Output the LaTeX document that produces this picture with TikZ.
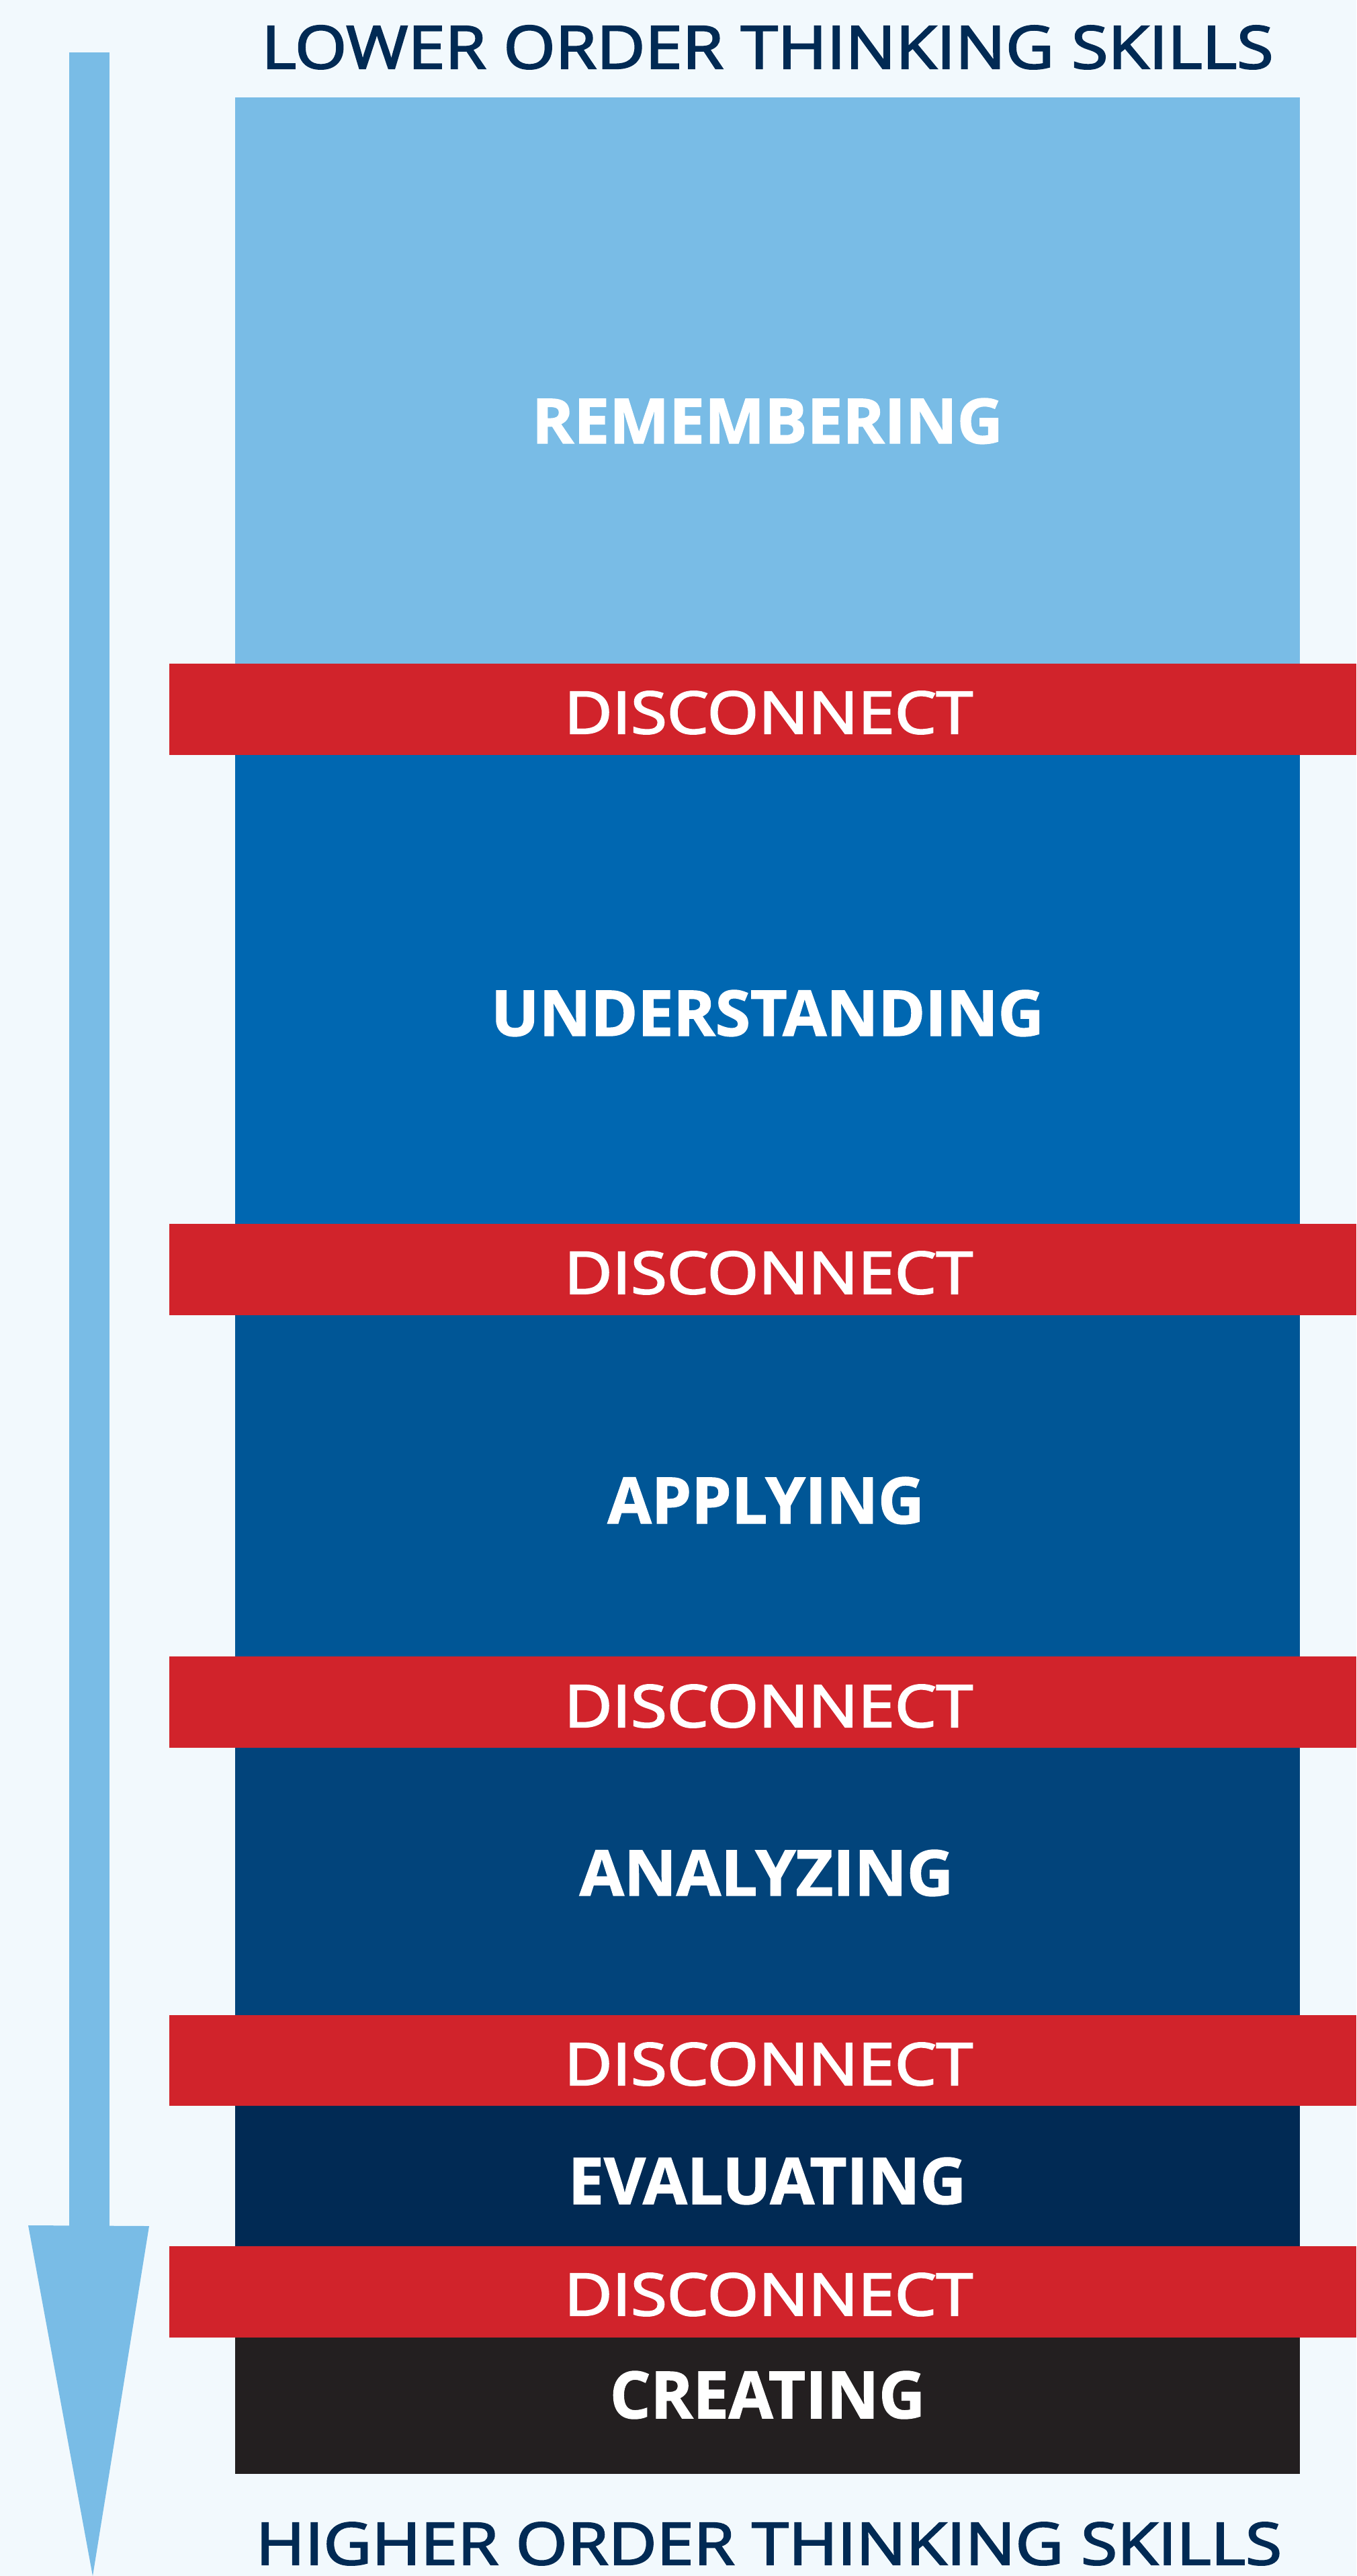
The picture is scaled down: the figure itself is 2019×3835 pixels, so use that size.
\documentclass[tikz,border=0pt]{standalone}
\usepackage{fontspec}
\setmainfont{Open Sans}
\newfontfamily\lblfont[FakeBold=1.5]{Open Sans Bold}
\newfontfamily\discfont[FakeBold=2.5]{Open Sans}
\newfontfamily\headfont[FakeBold=2.5]{Open Sans}
\definecolor{bg}{HTML}{F2F9FD}
\definecolor{lightblue}{HTML}{79BCE6}
\definecolor{lvltwo}{HTML}{0067B1}
\definecolor{lvlthree}{HTML}{005696}
\definecolor{lvlfour}{HTML}{02447B}
\definecolor{lvlfive}{HTML}{012A54}
\definecolor{lvlsix}{HTML}{231F20}
\definecolor{redband}{HTML}{D1232B}
\definecolor{navy}{HTML}{012A54}
\tikzset{
  txt/.style={anchor=base, inner sep=0pt, outer sep=0pt},
  lbl/.style={txt, text=white},
  disc/.style={txt, text=white},
  head/.style={txt, text=navy},
}
\newcommand{\fitlbl}[3]{\resizebox{#1pt}{#2pt}{\lblfont #3}}
\newcommand{\fitdisc}[1]{\resizebox{608pt}{63pt}{\discfont #1}}
\newcommand{\fithead}[3]{\resizebox{#1pt}{#2pt}{\headfont #3}}
\begin{document}
\begin{tikzpicture}[x=1pt,y=-1pt]
  \fill[bg] (0,0) rectangle (2019,3835);
  \useasboundingbox (0,0) rectangle (2019,3835);
  % arrow
  \fill[lightblue] (103,78) rectangle (163,3314);
  \fill[lightblue] (42,3313) -- (222,3314) -- (138,3835) -- cycle;
  % level boxes
  \fill[lightblue] (350,145) rectangle (1935,990);
  \fill[lvltwo] (350,1122) rectangle (1935,1824);
  \fill[lvlthree] (350,1956) rectangle (1935,2468);
  \fill[lvlfour] (350,2600) rectangle (1935,3002);
  \fill[lvlfive] (350,3133) rectangle (1935,3346);
  \fill[lvlsix] (350,3478) rectangle (1935,3683);
  % red bands
  \fill[redband] (252,988) rectangle (2019,1124);
  \fill[redband] (252,1822) rectangle (2019,1958);
  \fill[redband] (252,2466) rectangle (2019,2602);
  \fill[redband] (252,3000) rectangle (2019,3135);
  \fill[redband] (252,3344) rectangle (2019,3480);
  % headings
  \node[head] (lower) at (1142.5,102) {\fithead{1505}{64}{LOWER ORDER THINKING SKILLS}};
  \node[head] (higher) at (1144.5,3818) {\fithead{1527}{63}{HIGHER ORDER THINKING SKILLS}};
  % labels
  \node[lbl] (remember) at (1142.5,660) {\fitlbl{701}{67}{REMEMBERING}};
  \node[lbl] (understand) at (1142.5,1542) {\fitlbl{823}{68}{UNDERSTANDING}};
  \node[lbl] (apply) at (1140,2268) {\fitlbl{471}{69}{APPLYING}};
  \node[lbl] (analyze) at (1141,2822) {\fitlbl{556}{68}{ANALYZING}};
  \node[lbl] (evaluate) at (1142,3281) {\fitlbl{592}{69}{EVALUATING}};
  \node[lbl] (create) at (1142.5,3600) {\fitlbl{469}{70}{CREATING}};
  % disconnect labels
  \node[disc] (d1) at (1144,1092) {\fitdisc{DISCONNECT}};
  \node[disc] (d2) at (1144,1926) {\fitdisc{DISCONNECT}};
  \node[disc] (d3) at (1144,2571) {\fitdisc{DISCONNECT}};
  \node[disc] (d4) at (1144,3104) {\fitdisc{DISCONNECT}};
  \node[disc] (d5) at (1144,3447) {\fitdisc{DISCONNECT}};
\end{tikzpicture}
\end{document}
